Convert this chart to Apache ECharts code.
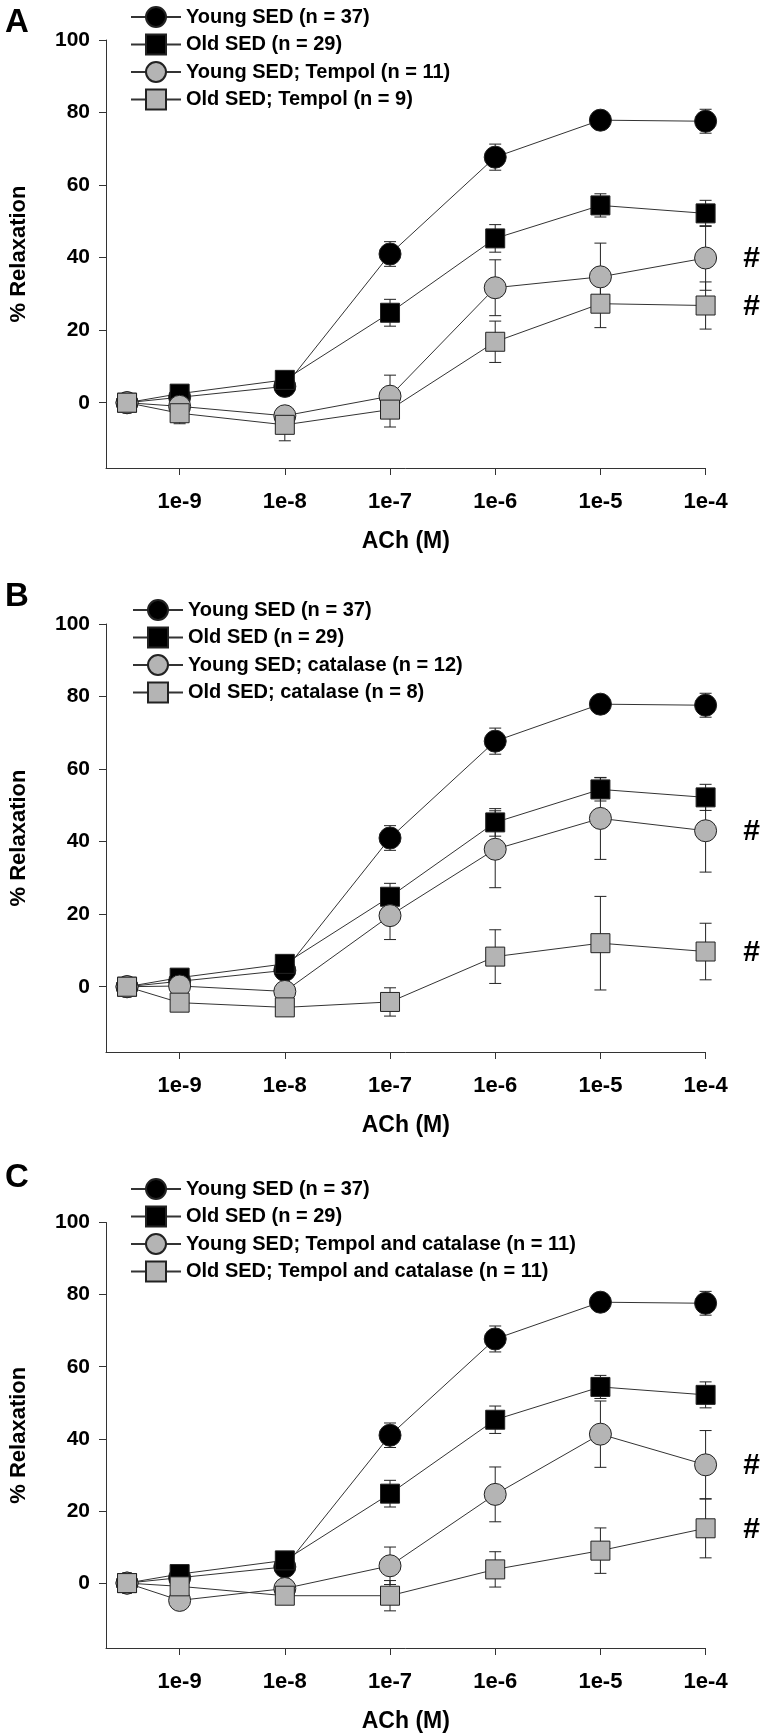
<!DOCTYPE html>
<html>
<head>
<meta charset="utf-8">
<script src="https://cdn.jsdelivr.net/npm/echarts@6/dist/echarts.min.js"></script>
<style>
html,body{margin:0;padding:0;background:#fff;}
#chart{width:763px;height:1734px;}
</style>
</head>
<body>
<div id="chart"></div>
<script>
// ---- data ----
const xLog = [-9.5, -9, -8, -7, -6, -5, -4];          // log10 [ACh]; first point = no ACh
const xTicks = [-9, -8, -7, -6, -5, -4];
const xTickLabels = ['1e-9', '1e-8', '1e-7', '1e-6', '1e-5', '1e-4'];
const yTicks = [0, 20, 40, 60, 80, 100];

const youngSED = [0, 1.5, 4.5, 41.0, 67.7, 77.9, 77.6];
const youngSEDErr = [2.5, 1.5, 1.5, 3.4, 3.6, 2.3, 3.3];
const oldSED = [0, 2.5, 6.3, 24.8, 45.3, 54.4, 52.2];
const oldSEDErr = [2, 1.5, 2, 3.7, 3.8, 3.2, 3.6];

const youngTempol = [0, -1.0, -3.6, 1.8, 31.7, 34.7, 39.9];
const youngTempolErr = [2, 1.5, 1.5, 5.8, 7.7, 9.3, 8.9];
const oldTempol = [0, -2.9, -6.1, -1.9, 16.8, 27.3, 26.8];
const oldTempolErr = [2.5, 2.9, 4.4, 4.8, 5.7, 6.6, 6.5];

const youngCat = [0, 0.2, -1.3, 19.6, 37.9, 46.4, 43.0];
const youngCatErr = [1.5, 1.5, 2, 6.6, 10.6, 11.3, 11.4];
const oldCat = [0, -4.4, -5.7, -4.2, 8.3, 12.0, 9.7];
const oldCatErr = [2, 1.5, 1.5, 3.9, 7.4, 12.9, 7.8];

const youngTC = [0, -4.8, -1.5, 4.8, 24.6, 41.3, 32.8];
const youngTCErr = [1.5, 1.5, 2, 5.2, 7.6, 9.2, 9.5];
const oldTC = [0, -0.9, -3.5, -3.5, 3.8, 9.0, 15.2];
const oldTCErr = [2.5, 1.5, 2, 4.2, 4.9, 6.3, 8.2];

const panelLetters = ['A', 'B', 'C'];
const namesYoung = 'Young SED (n = 37)';
const namesOld = 'Old SED (n = 29)';
const panelNames = [
  [namesYoung, namesOld, 'Young SED; Tempol (n = 11)', 'Old SED; Tempol (n = 9)'],
  [namesYoung, namesOld, 'Young SED; catalase (n = 12)', 'Old SED; catalase (n = 8)'],
  [namesYoung, namesOld, 'Young SED; Tempol and catalase (n = 11)', 'Old SED; Tempol and catalase (n = 11)']
];
const panelData = [
  [[youngSED, youngSEDErr], [oldSED, oldSEDErr], [youngTempol, youngTempolErr], [oldTempol, oldTempolErr]],
  [[youngSED, youngSEDErr], [oldSED, oldSEDErr], [youngCat, youngCatErr], [oldCat, oldCatErr]],
  [[youngSED, youngSEDErr], [oldSED, oldSEDErr], [youngTC, youngTCErr], [oldTC, oldTCErr]]
];
const hashMarked = [2, 3]; // series in each panel marked with '#'

// ---- layout ----
const FONT = "'Liberation Sans', Arial, Helvetica, sans-serif";
const gridTops = [40, 624, 1222.5];
const gridH = 428;
const legendTops = [1, 594, 1173];
const legendLefts = [125, 127, 125];
const letterTops = [6, 580, 1161];

const styles = [
  {symbol: 'circle', size: 22, fill: '#000000'},
  {symbol: 'rect', size: 19, fill: '#000000'},
  {symbol: 'circle', size: 22, fill: '#b4b4b4'},
  {symbol: 'rect', size: 19, fill: '#b4b4b4'}
];

const grids = [], xAxes = [], yAxes = [], series = [], legends = [], graphics = [];

panelLetters.forEach((L, p) => {
  grids.push({left: 95, width: 610.6, top: gridTops[p], height: gridH, containLabel: false});
  xAxes.push({
    type: 'value', gridIndex: p, min: -9.7, max: -4,
    name: 'ACh (M)', nameLocation: 'middle', nameGap: 62,
    nameTextStyle: {fontFamily: FONT, fontWeight: 'bold', fontSize: 23, color: '#000'},
    axisLine: {show: true, onZero: false, lineStyle: {color: '#333', width: 1}},
    axisTick: {show: true, customValues: xTicks, length: 7, lineStyle: {color: '#333'}},
    axisLabel: {show: true, customValues: xTicks, margin: 23, fontFamily: FONT, fontWeight: 'bold', fontSize: 22, color: '#000',
      formatter: v => xTickLabels[xTicks.indexOf(Math.round(v))]},
    splitLine: {show: false}
  });
  yAxes.push({
    type: 'value', gridIndex: p, min: -18, max: 100,
    name: '% Relaxation', nameLocation: 'middle', nameGap: 76,
    nameTextStyle: {fontFamily: FONT, fontWeight: 'bold', fontSize: 22, color: '#000'},
    axisLine: {show: true, onZero: false, lineStyle: {color: '#333', width: 1}},
    axisTick: {show: true, customValues: yTicks, length: 7, lineStyle: {color: '#333'}},
    axisLabel: {show: true, customValues: yTicks, margin: 16, fontFamily: FONT, fontWeight: 'bold', fontSize: 21, color: '#000'},
    splitLine: {show: false}
  });
  // error bars
  panelData[p].forEach(([vals, errs], s) => {
    series.push({
      type: 'custom', xAxisIndex: p, yAxisIndex: p, z: 1, silent: true,
      data: vals.map((v, i) => [xLog[i], v - errs[i], v + errs[i]]),
      encode: {x: 0, y: [1, 2]},
      renderItem: (params, api) => {
        const x = api.value(0);
        const lo = api.coord([x, api.value(1)]);
        const hi = api.coord([x, api.value(2)]);
        const hw = 6;
        const st = {stroke: '#222', lineWidth: 1};
        return {type: 'group', children: [
          {type: 'line', shape: {x1: lo[0], y1: lo[1], x2: hi[0], y2: hi[1]}, style: st},
          {type: 'line', shape: {x1: lo[0] - hw, y1: lo[1], x2: lo[0] + hw, y2: lo[1]}, style: st},
          {type: 'line', shape: {x1: hi[0] - hw, y1: hi[1], x2: hi[0] + hw, y2: hi[1]}, style: st}
        ]};
      }
    });
  });
  // lines with markers
  panelData[p].forEach(([vals], s) => {
    const st = styles[s];
    const ser = {
      type: 'line', name: panelNames[p][s], xAxisIndex: p, yAxisIndex: p, z: 2,
      data: vals.map((v, i) => [xLog[i], v]),
      symbol: st.symbol, symbolSize: st.size, showAllSymbol: true,
      lineStyle: {color: '#333', width: 1},
      itemStyle: {color: st.fill, borderColor: '#222', borderWidth: 1, opacity: 1},
      emphasis: {disabled: true}
    };
    if (hashMarked.indexOf(s) >= 0) {
      ser.markPoint = {
        symbol: 'circle', symbolSize: 0, silent: true,
        data: [{coord: [xLog[6], vals[6]],
          label: {show: true, position: 'inside', formatter: '#', offset: [46, 1],
            fontFamily: FONT, fontWeight: 'bold', fontSize: 30, color: '#000'}}]
      };
    }
    series.push(ser);
  });
  legends.push({
    orient: 'vertical', left: legendLefts[p], top: legendTops[p],
    itemWidth: 50, itemHeight: 25, itemGap: 5.5,
    data: panelNames[p],
    textStyle: {fontFamily: FONT, fontWeight: 'bold', fontSize: 20, color: '#000'},
    selectedMode: false
  });
  graphics.push({type: 'text', left: 5, top: letterTops[p],
    style: {text: L, fontFamily: FONT, fontWeight: 'bold', fontSize: 33, fill: '#000'}});
});

const chart = echarts.init(document.getElementById('chart'), null, {renderer: 'canvas'});
chart.setOption({
  animation: false,
  backgroundColor: '#ffffff',
  grid: grids, xAxis: xAxes, yAxis: yAxes,
  legend: legends, series: series, graphic: graphics
});
</script>
</body>
</html>
